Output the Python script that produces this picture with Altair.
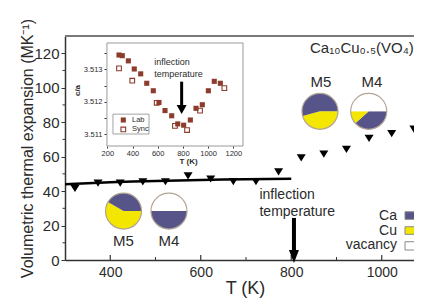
import math
import altair as alt
import pandas as pd

FONT = "Liberation Sans"
TXT = "#2b2b2b"
AXC = "#333333"
CA_COL = "#57548a"
CU_COL = "#f3e600"
BROWN = "#8c3b2c"

# ---------------- main panel data ----------------
temp_K = [322, 373, 422, 472, 522, 572, 622, 672, 722, 772, 822, 872, 922, 972, 1022, 1071]
vol_exp = [41.5, 44.6, 44.6, 45.3, 45.4, 48.8, 47.0, 45.5, 45.5, 51.2, 59.3, 61.4, 64.2, 70.6, 73.4, 75.9]
fit_K = [300, 350, 400, 450, 500, 550, 600, 650, 700, 750, 800]
fit_exp = [44.0, 44.6, 45.1, 45.5, 45.9, 46.2, 46.5, 46.7, 46.9, 47.0, 47.1]
x_ticks = [400, 600, 800, 1000]
x_minor = [500, 700, 900]
y_ticks = [0, 20, 40, 60, 80, 100, 120]
y_minor = [10, 30, 50, 70, 90, 110]

# ---------------- inset data ----------------
lab_K = [293, 319, 367, 414, 465, 513, 565, 610, 658, 711, 759, 806, 859, 904, 954, 1002, 1049, 1097]
lab_ca = [3.51344, 3.51342, 3.51326, 3.51301, 3.51286, 3.51257, 3.51234, 3.51198, 3.51173,
          3.51157, 3.51132, 3.51128, 3.51144, 3.51180, 3.51191, 3.51234, 3.51263, 3.51257]
sync_K = [293, 398, 592, 737, 833, 936, 1129]
sync_ca = [3.51303, 3.51265, 3.51197, 3.51126, 3.51113, 3.51173, 3.51242]
inset_x_ticks = [200, 400, 600, 800, 1000, 1200]
inset_y_ticks = [3.511, 3.5115, 3.512, 3.5125, 3.513, 3.5135]

# ---------------- site-occupancy pies ----------------
pie_cx = [429.3, 429.3, 529.8, 529.8, 863.5, 863.5, 971.2, 971.2, 971.2]
pie_cy = [28.4, 28.4, 28.4, 28.4, 86.3, 86.3, 86.3, 86.3, 86.3]
pie_start = [90, 300, 90, 270, 90, 255, 90, 228, 270]
pie_end = [300, 450, 270, 450, 255, 450, 228, 270, 450]
pie_site = ["Cu", "Ca", "Ca", "vacancy", "Cu", "Ca", "Ca", "Cu", "vacancy"]
site_colors = {"Ca": CA_COL, "Cu": CU_COL, "vacancy": "#ffffff"}
pie_centers_x = [429.3, 529.8, 863.5, 971.2]
pie_centers_y = [28.4, 28.4, 86.3, 86.3]
pie_label_x = [429.3, 529.8, 865.7, 978.5]
pie_label_y = [7.95, 7.95, 100.2, 100.2]
pie_labels = ["M5", "M4", "M5", "M4"]

W, H = 349, 224
XD = [300, 1071.3]
YD = [0, 130]
XID = [-135.7, 2634]
YID = [3.507132, 3.514025]


def sc(d):
    return alt.Scale(domain=d, nice=False, zero=False)


def mx(f):
    return alt.X(f, type="quantitative", scale=sc(XD), axis=None)


def my(f):
    return alt.Y(f, type="quantitative", scale=sc(YD), axis=None)


def ix(f):
    return alt.X(f, type="quantitative", scale=sc(XID), axis=None)


def iy(f):
    return alt.Y(f, type="quantitative", scale=sc(YID), axis=None)


# ---- main layers ----
top_rule = alt.Chart(pd.DataFrame({"x": [300], "x2": [1100], "y": [130]})).mark_rule(
    color="#7a7a7a", strokeWidth=2).encode(x=mx("x"), x2="x2:Q", y=my("y"))

fit = alt.Chart(pd.DataFrame({"T": fit_K, "v": fit_exp})).mark_line(
    color="black", strokeWidth=2.5).encode(
    x=alt.X("T:Q", scale=sc(XD), axis=alt.Axis(
        values=x_ticks, format="d", ticks=False, labelPadding=5, labelFontSize=14,
        title="T (K)", titleFontSize=18, titleFontWeight="normal", titleX=180,
        titlePadding=0, domainColor=AXC, domainWidth=1.5)),
    y=alt.Y("v:Q", scale=sc(YD), axis=alt.Axis(
        values=y_ticks, tickSize=4, labelPadding=2, labelFontSize=15,
        title="Volumetric thermal expansion (MK⁻¹)", titleFontSize=16,
        titleFontWeight="normal", titlePadding=-2, domainColor=AXC, domainWidth=1.5)))

tri = alt.Chart(pd.DataFrame({"T": temp_K, "v": vol_exp})).mark_point(
    shape="M-1,-0.8L1,-0.8L0,0.8Z", size=81, filled=True, color="black", opacity=1).encode(
    x=mx("T"), y=my("v"))

xt = alt.Chart(pd.DataFrame({"t": x_ticks})).mark_rule(color=AXC, strokeWidth=1.2).encode(
    x=mx("t"), y=alt.value(H), y2=alt.value(H - 5))
xm = alt.Chart(pd.DataFrame({"t": x_minor})).mark_rule(color=AXC, strokeWidth=1).encode(
    x=mx("t"), y=alt.value(H), y2=alt.value(H - 3))
ym = alt.Chart(pd.DataFrame({"t": y_minor})).mark_rule(color=AXC, strokeWidth=1).encode(
    y=my("t"), x=alt.value(-2.5), x2=alt.value(0))

pie_df = pd.DataFrame({
    "cx": pie_cx, "cy": pie_cy,
    "t0": [math.radians(a) for a in pie_start],
    "t1": [math.radians(a) for a in pie_end],
    "col": [site_colors[s] for s in pie_site]})
pies = alt.Chart(pie_df).mark_arc(radius=18).encode(
    x=mx("cx"), y=my("cy"),
    theta=alt.Theta("t0:Q", scale=None, stack=None), theta2="t1:Q",
    color=alt.Color("col:N", scale=None))
pie_rim = alt.Chart(pd.DataFrame({"cx": pie_centers_x, "cy": pie_centers_y})).mark_point(
    shape="circle", size=1296, filled=False, color="#b3a594", strokeWidth=1.2, opacity=1).encode(
    x=mx("cx"), y=my("cy"))
pie_txt = alt.Chart(pd.DataFrame({"x": pie_label_x, "y": pie_label_y, "s": pie_labels})).mark_text(
    font=FONT, fontSize=15, color=TXT, align="center", baseline="alphabetic").encode(
    x=mx("x"), y=my("y"), text="s:N")

formula = alt.Chart(pd.DataFrame({"x": [841.4], "y": [119.9], "s": ["Ca₁₀Cu₀.₅(VO₄)₇"]})).mark_text(
    font=FONT, fontSize=15, color=TXT, align="left", baseline="alphabetic").encode(
    x=mx("x"), y=my("y"), text="s:N")

ann = alt.Chart(pd.DataFrame({"x": [729.8, 729.8], "y": [35.4, 25.5],
                              "s": ["inflection", "temperature"]})).mark_text(
    font=FONT, fontSize=14, color=TXT, align="left", baseline="alphabetic").encode(
    x=mx("x"), y=my("y"), text="s:N")

arrow = alt.Chart(pd.DataFrame({"x": [806], "y": [24.4], "y2": [5.5]})).mark_rule(
    color="black", strokeWidth=4).encode(x=mx("x"), y=my("y"), y2="y2:Q")
arrow_head = alt.Chart(pd.DataFrame({"x": [806], "y": [2.03]})).mark_point(
    shape="M-1,-1.3L1,-1.3L0,1.3Z", size=100, filled=True, color="black", opacity=1).encode(
    x=mx("x"), y=my("y"))

leg_sites = ["Ca", "Cu", "vacancy"]
leg_df = pd.DataFrame({
    "x": [1051.4] * 3, "x2": [1095] * 3,
    "y": [23.6, 14.9, 5.8], "y2": [28.0, 19.3, 10.6],
    "col": [site_colors[s] for s in leg_sites]})
leg_sw = alt.Chart(leg_df).mark_rect(stroke="#8a8a8a", strokeWidth=1).encode(
    x=mx("x"), x2="x2:Q", y=my("y"), y2="y2:Q", fill=alt.Fill("col:N", scale=None))
leg_txt = alt.Chart(pd.DataFrame({"x": [1033.7] * 3, "y": [23.2, 14.5, 6.4], "s": leg_sites})).mark_text(
    font=FONT, fontSize=14, color=TXT, align="right", baseline="alphabetic").encode(
    x=mx("x"), y=my("y"), text="s:N")

# ---- inset layers ----
frame = alt.Chart(pd.DataFrame({"x": [197], "x2": [1277], "y": [3.51064], "y2": [3.51381]})).mark_rect(
    fill="white", stroke="#9a9a9a", strokeWidth=1).encode(
    x=alt.X("x:Q", scale=sc(XID), axis=alt.Axis(
        orient="bottom", offset=-114, values=inset_x_ticks, format="d", domain=False, tickSize=2,
        labelFontSize=7.5, labelPadding=1, title="T (K)", titleFontSize=8,
        titleFontWeight="bold", titleX=123, titlePadding=1)),
    x2="x2:Q",
    y=alt.Y("y:Q", scale=sc(YID), axis=alt.Axis(
        orient="left", offset=-42, values=inset_y_ticks, format=".4f",
        labelExpr="substring(datum.label, 5) == '0' ? substring(datum.label, 0, 5) : ''",
        domain=False, tickSize=3, labelFontSize=7.5, labelPadding=2, title="c/a",
        titleFontSize=8, titleFontWeight="bold", titlePadding=2, titleY=54)),
    y2="y2:Q")

lab = alt.Chart(pd.DataFrame({"T": lab_K, "c": lab_ca})).mark_point(
    shape="square", size=26, filled=True, color=BROWN, opacity=1).encode(x=ix("T"), y=iy("c"))
sync = alt.Chart(pd.DataFrame({"T": sync_K, "c": sync_ca})).mark_point(
    shape="square", size=22, filled=False, color=BROWN, strokeWidth=1.1, opacity=1).encode(
    x=ix("T"), y=iy("c"))

ibox = alt.Chart(pd.DataFrame({"x": [245], "x2": [531], "y": [3.51101], "y2": [3.51162]})).mark_rect(
    fill="white", stroke="#8a8a8a", strokeWidth=0.8).encode(
    x=ix("x"), x2="x2:Q", y=iy("y"), y2="y2:Q")
ileg_lab = alt.Chart(pd.DataFrame({"x": [327], "y": [3.51144]})).mark_point(
    shape="square", size=26, filled=True, color=BROWN, opacity=1).encode(x=ix("x"), y=iy("y"))
ileg_sync = alt.Chart(pd.DataFrame({"x": [327], "y": [3.51115]})).mark_point(
    shape="square", size=22, filled=False, color=BROWN, strokeWidth=1.1, opacity=1).encode(
    x=ix("x"), y=iy("y"))
ileg_txt = alt.Chart(pd.DataFrame({"x": [396, 396], "y": [3.51144, 3.51115], "s": ["Lab", "Sync"]})).mark_text(
    font=FONT, fontSize=7.5, color=TXT, align="left", baseline="middle").encode(
    x=ix("x"), y=iy("y"), text="s:N")
iann = alt.Chart(pd.DataFrame({"x": [573, 573], "y": [3.51313, 3.51276],
                               "s": ["inflection", "temperature"]})).mark_text(
    font=FONT, fontSize=9, color=TXT, align="left", baseline="alphabetic").encode(
    x=ix("x"), y=iy("y"), text="s:N")
iarrow = alt.Chart(pd.DataFrame({"x": [790], "y": [3.51262], "y2": [3.5119]})).mark_rule(
    color="black", strokeWidth=3).encode(x=ix("x"), y=iy("y"), y2="y2:Q")
iarrow_head = alt.Chart(pd.DataFrame({"x": [790], "y": [3.51176]})).mark_point(
    shape="M-1,-0.9L1,-0.9L0,0.9Z", size=100, filled=True, color="black", opacity=1).encode(
    x=ix("x"), y=iy("y"))

chart = alt.layer(
    fit, top_rule, tri, xt, xm, ym, pies, pie_rim, pie_txt, formula, ann,
    arrow, arrow_head, leg_sw, leg_txt,
    frame, lab, sync, ibox, ileg_lab, ileg_sync, ileg_txt, iann, iarrow, iarrow_head
).resolve_scale(
    x="independent", y="independent"
).properties(
    width=W, height=H,
    autosize=alt.AutoSizeParams(type="none"),
    padding={"left": 57, "top": 28, "right": 0, "bottom": 38},
).configure_view(stroke=None).configure_axis(
    grid=False, labelFont=FONT, titleFont=FONT, labelColor=TXT, titleColor=TXT,
    tickColor=AXC, domainColor=AXC)

chart.save("out.html", embed_options={"renderer": "svg", "actions": False})
